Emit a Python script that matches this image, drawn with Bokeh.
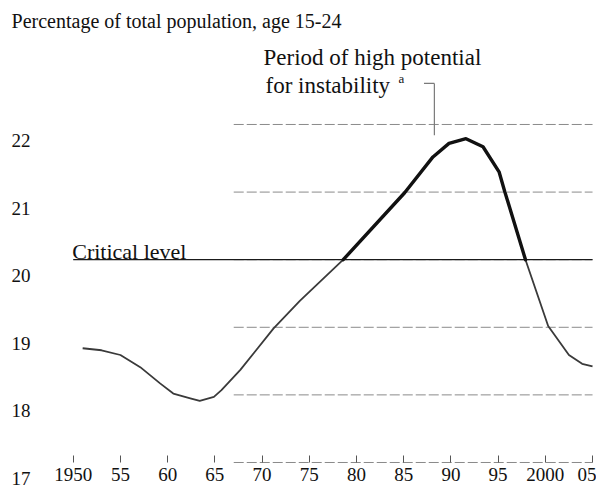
from bokeh.plotting import figure
from bokeh.models import Range1d, LinearAxis, FixedTicker
from bokeh.core.properties import value
from bokeh.embed import file_html
from bokeh.resources import INLINE

# ---- data ----
years = [1951.0, 1953.0, 1955.0, 1957.1, 1959.2, 1960.6, 1962.4, 1963.4, 1964.9,
         1965.7, 1967.7, 1971.2, 1974.0, 1978.6, 1985.1, 1988.1, 1989.8, 1991.6,
         1993.4, 1995.1, 1995.7, 1997.9, 2000.3, 2002.5, 2003.9, 2005.0]
pct = [18.69, 18.66, 18.59, 18.41, 18.17, 18.02, 17.95, 17.91, 17.97,
       18.07, 18.37, 18.98, 19.39, 20.00, 20.99, 21.52, 21.72, 21.79,
       21.67, 21.30, 21.01, 20.00, 19.02, 18.59, 18.46, 18.42]
critical_level = 20.0

x_ticks = [1950, 1955, 1960, 1965, 1970, 1975, 1980, 1985, 1990, 1995, 2000, 2005]
x_tick_labels = ["1950", "55", "60", "65", "70", "75", "80", "85", "90", "95", "2000", "05"]
y_ticks = [17, 18, 19, 20, 21, 22]
y_tick_labels = ["17", "18", "19", "20", "21", "22"]

title_text = "Percentage of total population, age 15-24"
note_lines = ["Period of high potential", "for instability"]
note_mark = "a"
critical_text = "Critical level"

# ---- layout ----
X0, X1 = 1942.30, 2005.42
Y0, Y1 = 16.556, 23.834
LABEL_SHIFT = 0.237          # tick labels sit ~16px below their rules, as printed
GRID_FROM = 1967
FONT = value("Liberation Serif")
INK = "#111111"

p = figure(width=596, height=492, x_range=Range1d(X0, X1), y_range=Range1d(Y0, Y1),
           x_axis_type=None, y_axis_type=None, toolbar_location=None,
           output_backend="svg", min_border=0, outline_line_color=None,
           background_fill_color="white", border_fill_color="white")
p.extra_y_ranges = {"labels": Range1d(Y0 + LABEL_SHIFT, Y1 + LABEL_SHIFT)}

# faint horizontal rules
p.segment(x0=[GRID_FROM] * len(y_ticks), y0=y_ticks,
          x1=[x_ticks[-1]] * len(y_ticks), y1=y_ticks,
          line_color="#8a8a8a", line_width=1, line_dash="10 3")

# x axis sitting on the 17 rule, ticks pointing up
xaxis = LinearAxis(fixed_location=y_ticks[0], ticker=FixedTicker(ticks=x_ticks),
                   major_label_overrides={t: s for t, s in zip(x_ticks, x_tick_labels)},
                   major_tick_in=7, major_tick_out=0, minor_tick_in=0, minor_tick_out=0,
                   axis_line_color=None, major_tick_line_color="#555555",
                   major_label_standoff=6, major_label_text_font="Liberation Serif",
                   major_label_text_font_size="19px", major_label_text_color=INK)
p.add_layout(xaxis, "below")

# y labels
yaxis = LinearAxis(y_range_name="labels", fixed_location=1945.90,
                   ticker=FixedTicker(ticks=y_ticks),
                   major_label_overrides={t: s for t, s in zip(y_ticks, y_tick_labels)},
                   major_tick_in=0, major_tick_out=0, minor_tick_in=0, minor_tick_out=0,
                   axis_line_color=None, major_tick_line_color=None,
                   major_label_standoff=4, major_label_text_font="Liberation Serif",
                   major_label_text_font_size="19px", major_label_text_color=INK)
p.add_layout(yaxis, "left")

# critical level
p.segment(x0=[x_ticks[0]], y0=[critical_level], x1=[x_ticks[-1]], y1=[critical_level],
          line_color="#1a1a1a", line_width=1.3)
p.text(x=[x_ticks[0]], y=[critical_level], text=[critical_text], text_font=FONT,
       text_font_size="22px", text_color=INK, text_baseline="alphabetic",
       text_align="left", x_offset=-1, y_offset=-8)

# curve
p.line(years, pct, line_color="#3a3a3a", line_width=1.8)
hi_years = [y for y, v in zip(years, pct) if v >= critical_level]
hi_pct = [v for v in pct if v >= critical_level]
p.line(hi_years, hi_pct, line_color="#111111", line_width=3.4, line_cap="round")

# call-out for the period above the critical level
mid = (hi_years[0] + hi_years[-1]) / 2
peak = max(pct)
NOTE_Y = 22.607
p.segment(x0=[mid, mid - 1.1], y0=[peak + 0.05, NOTE_Y], x1=[mid, mid], y1=[NOTE_Y, NOTE_Y],
          line_color="#7a7a7a", line_width=1.2)

p.text(x=[1970.15, 1970.37], y=[22.991, 22.577], text=note_lines, text_font=FONT,
       text_font_size="23px", text_color=INK, text_baseline="alphabetic", text_align="left")
p.text(x=[1984.45], y=[22.68], text=[note_mark], text_font=FONT, text_font_size="13px",
       text_color=INK, text_baseline="alphabetic", text_align="left")

# axis title at top left
p.text(x=[1943.47], y=[23.538], text=[title_text], text_font=FONT, text_font_size="20px",
       text_color=INK, text_baseline="alphabetic", text_align="left")

open("out.html", "w").write(file_html(p, INLINE))
